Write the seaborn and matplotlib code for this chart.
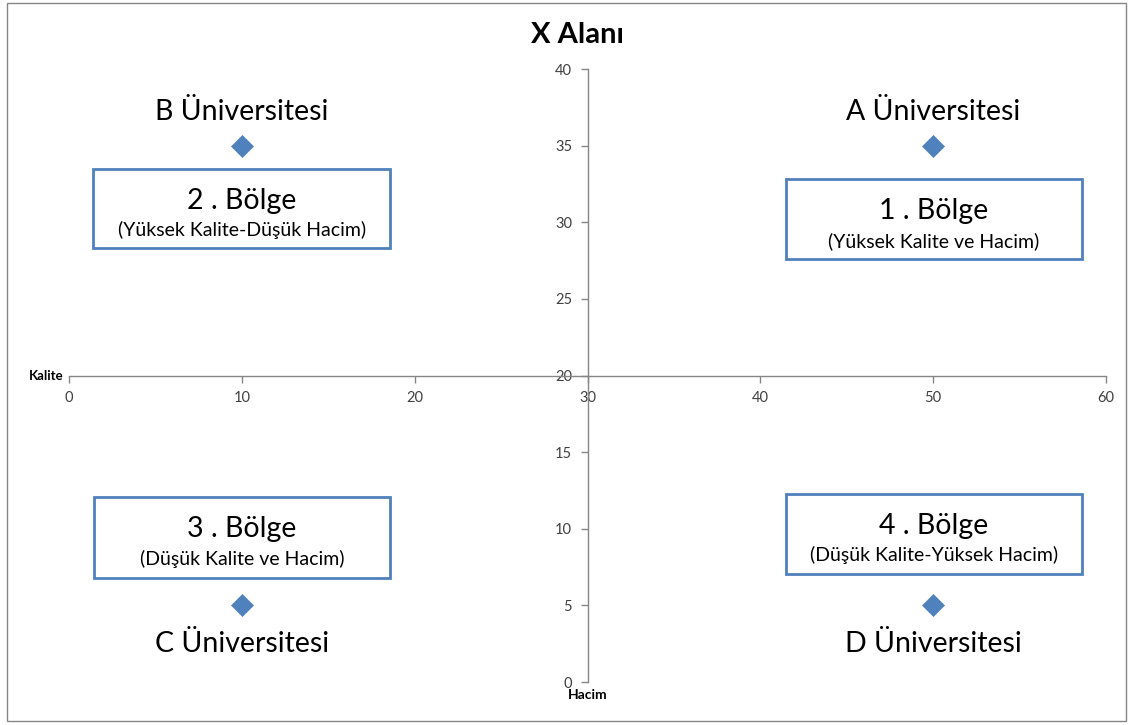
import pandas as pd
import matplotlib.pyplot as plt
import seaborn as sns
from matplotlib.patches import Rectangle

sns.set_theme(style="white")
plt.rcParams['font.family'] = ['Lato', 'DejaVu Sans']

# data
universities = ['A Üniversitesi', 'B Üniversitesi', 'C Üniversitesi', 'D Üniversitesi']
hacim = [50, 10, 10, 50]
kalite = [35, 35, 5, 5]
region_titles = ['1 . Bölge', '2 . Bölge', '3 . Bölge', '4 . Bölge']
region_notes = ['(Yüksek Kalite ve Hacim)', '(Yüksek Kalite-Düşük Hacim)',
                '(Düşük Kalite ve Hacim)', '(Düşük Kalite-Yüksek Hacim)']
x_ticks = [0, 10, 20, 30, 40, 50, 60]
y_ticks = [0, 5, 10, 15, 20, 25, 30, 35, 40]

df = pd.DataFrame({'hacim': hacim, 'kalite': kalite, 'uni': universities})

blue = '#4F81BD'
axis_grey = '#868686'

fig = plt.figure(figsize=(11.28, 7.25), dpi=100)
ax = fig.add_axes([0.0612, 0.0593, 0.9193, 0.8455])

sns.scatterplot(data=df, x='hacim', y='kalite', marker='D', s=125,
                color=blue, edgecolor=blue, linewidth=0.5, ax=ax, zorder=3)

# university names, above for upper points, below for lower points
for _, r in df.iterrows():
    dy = 2.2 if r.kalite > 20 else -2.5
    ax.text(r.hacim, r.kalite + dy, r.uni, ha='center', va='center',
            fontsize=20.5, color='black')

# region boxes (layout: x0, y0, w, h in data units)
boxes = [(41.5, 27.6, 17.1, 5.2), (1.4, 28.3, 17.2, 5.2),
         (1.45, 6.8, 17.1, 5.3), (41.5, 7.05, 17.1, 5.25)]
for (x0, y0, w, h), t, n in zip(boxes, region_titles, region_notes):
    ax.add_patch(Rectangle((x0, y0), w, h, fill=True, facecolor='white',
                           edgecolor=blue, linewidth=2, zorder=2))
    ax.text(x0 + w / 2, y0 + h * 0.60, t, ha='center', va='center',
            fontsize=20.5, color='black', zorder=4)
    ax.text(x0 + w / 2, y0 + h * 0.23, n, ha='center', va='center',
            fontsize=14, color='black', zorder=4)

ax.set_xlim(0, 60)
ax.set_ylim(0, 40)
ax.set_xticks(x_ticks)
ax.set_yticks(y_ticks)
ax.set_xlabel('')
ax.set_ylabel('')

# axes crossing in the middle
ax.spines['left'].set_position(('data', 30))
ax.spines['bottom'].set_position(('data', 20))
ax.spines['top'].set_visible(False)
ax.spines['right'].set_visible(False)
for s in ['left', 'bottom']:
    ax.spines[s].set_color(axis_grey)
    ax.spines[s].set_linewidth(1)
ax.tick_params(axis='both', which='both', direction='out', length=5,
               width=1, color=axis_grey, labelsize=10.5, labelcolor='#404040',
               pad=6)
ax.tick_params(axis='x', bottom=True)
ax.tick_params(axis='y', left=True)

ax.text(-0.3, 20, 'Kalite', ha='right', va='center', fontsize=9.5,
        fontweight='bold', color='black')
ax.text(30, -0.45, 'Hacim', ha='center', va='top', fontsize=10,
        fontweight='bold', color='black')

fig.text(0.512, 0.952, 'X Alanı', ha='center', va='center', fontsize=21,
         fontweight='bold', color='black')

# chart border
fig.patches.append(Rectangle((0.006, 0.006), 0.992, 0.99, transform=fig.transFigure,
                             fill=False, edgecolor=axis_grey, linewidth=1))

plt.savefig('out.png', dpi=100)
plt.close()
